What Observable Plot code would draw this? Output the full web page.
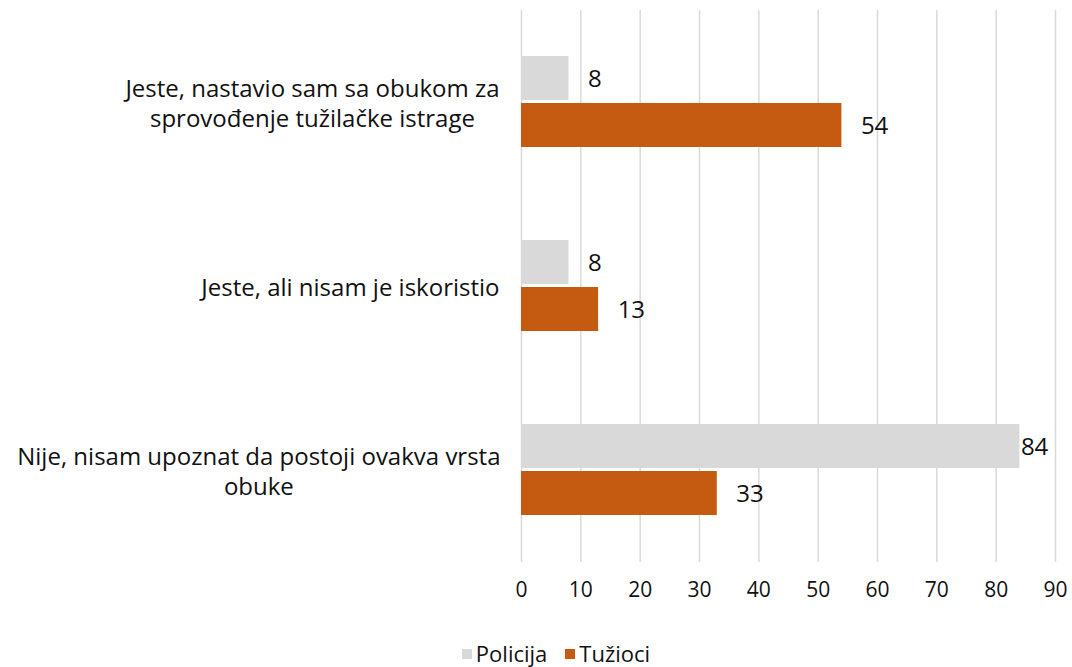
<!DOCTYPE html>
<html>
<head>
<meta charset="utf-8">
<script src="https://cdn.jsdelivr.net/npm/d3@7"></script>
<script src="https://cdn.jsdelivr.net/npm/@observablehq/plot@0.6"></script>
<style>
  html, body { margin: 0; padding: 0; background: #fff; }
  body { width: 1072px; height: 667px; overflow: hidden; font-family: "Open Sans", Lato, sans-serif; }
  #legend { display: flex; justify-content: center; gap: 18px; margin-top: 18px; padding-left: 40px; font-size: 22px; color: #111; }
  #legend span.sw { display: inline-block; width: 10px; height: 10px; margin-right: 4px; vertical-align: middle; position: relative; top: -2px; }
</style>
</head>
<body>
<div id="chart"></div>
<div id="legend"></div>
<script>
const categories = [
  "Jeste, nastavio sam sa obukom za sprovođenje tužilačke istrage",
  "Jeste, ali nisam je iskoristio",
  "Nije, nisam upoznat da postoji ovakva vrsta obuke"
];
const categoryLines = [
  ["Jeste, nastavio sam sa obukom za", "sprovođenje tužilačke istrage"],
  ["Jeste, ali nisam je iskoristio"],
  ["Nije, nisam upoznat da postoji ovakva vrsta", "obuke"]
];
const series = ["Policija", "Tužioci"];
const policija = [8, 8, 84];
const tuzioci = [54, 13, 33];
const xTicks = [0, 10, 20, 30, 40, 50, 60, 70, 80, 90];
const colors = ["#d9d9d9", "#c55a11"];

const data = categories.flatMap((c, i) => [
  {category: c, series: series[0], value: policija[i]},
  {category: c, series: series[1], value: tuzioci[i]}
]);
const wrapped = new Map(categories.map((c, i) => [c, categoryLines[i].join("\n")]));

const chart = Plot.plot({
  width: 1072,
  height: 620,
  marginLeft: 521,
  marginRight: 17,
  marginTop: 10,
  marginBottom: 58,
  style: {fontFamily: "'Open Sans', Lato, sans-serif", color: "#111", background: "#fff"},
  x: {domain: [0, 90], axis: null},
  fy: {domain: categories, padding: 0, axis: null},
  y: {domain: series, paddingInner: 0.06, paddingOuter: 0.95, axis: null},
  color: {domain: series, range: colors},
  marks: [
    Plot.ruleX(xTicks, {stroke: "#d9d9d9", strokeWidth: 1.5}),
    Plot.barX(data, {x: "value", y: "series", fy: "category", fill: "series"}),
    Plot.text(data, {filter: d => d.value < 80, x: "value", y: "series", fy: "category", text: d => String(d.value), dx: 19, dy: 1, textAnchor: "start", fontSize: 24, fill: "#111"}),
    Plot.text(data, {filter: d => d.value >= 80, x: "value", y: "series", fy: "category", text: d => String(d.value), dx: 1, dy: 1, textAnchor: "start", fontSize: 24, fill: "#111"}),
    Plot.axisX({ticks: xTicks, tickSize: 0, tickPadding: 20, label: null, fontSize: 21, anchor: "bottom", fill: "#111"}),
    Plot.axisFy({anchor: "left", tickSize: 0, tickPadding: 21, label: null, fontSize: 24, lineHeight: 1.25, tickFormat: d => wrapped.get(d), fill: "#111"})
  ]
});
document.getElementById("chart").appendChild(chart);

// center multi-line category labels as a block that is right-aligned to the axis
chart.querySelectorAll('[aria-label="fy-axis tick label"] text').forEach(t => {
  const b = t.getBBox();
  t.setAttribute("text-anchor", "middle");
  const tr = t.getAttribute("transform") || "";
  t.setAttribute("transform", tr + ` translate(${-b.width / 2},0)`);
});

const legend = document.getElementById("legend");
series.forEach((s, i) => {
  const item = document.createElement("div");
  item.innerHTML = `<span class="sw" style="background:${colors[i]}"></span>${s}`;
  legend.appendChild(item);
});
</script>
</body>
</html>
